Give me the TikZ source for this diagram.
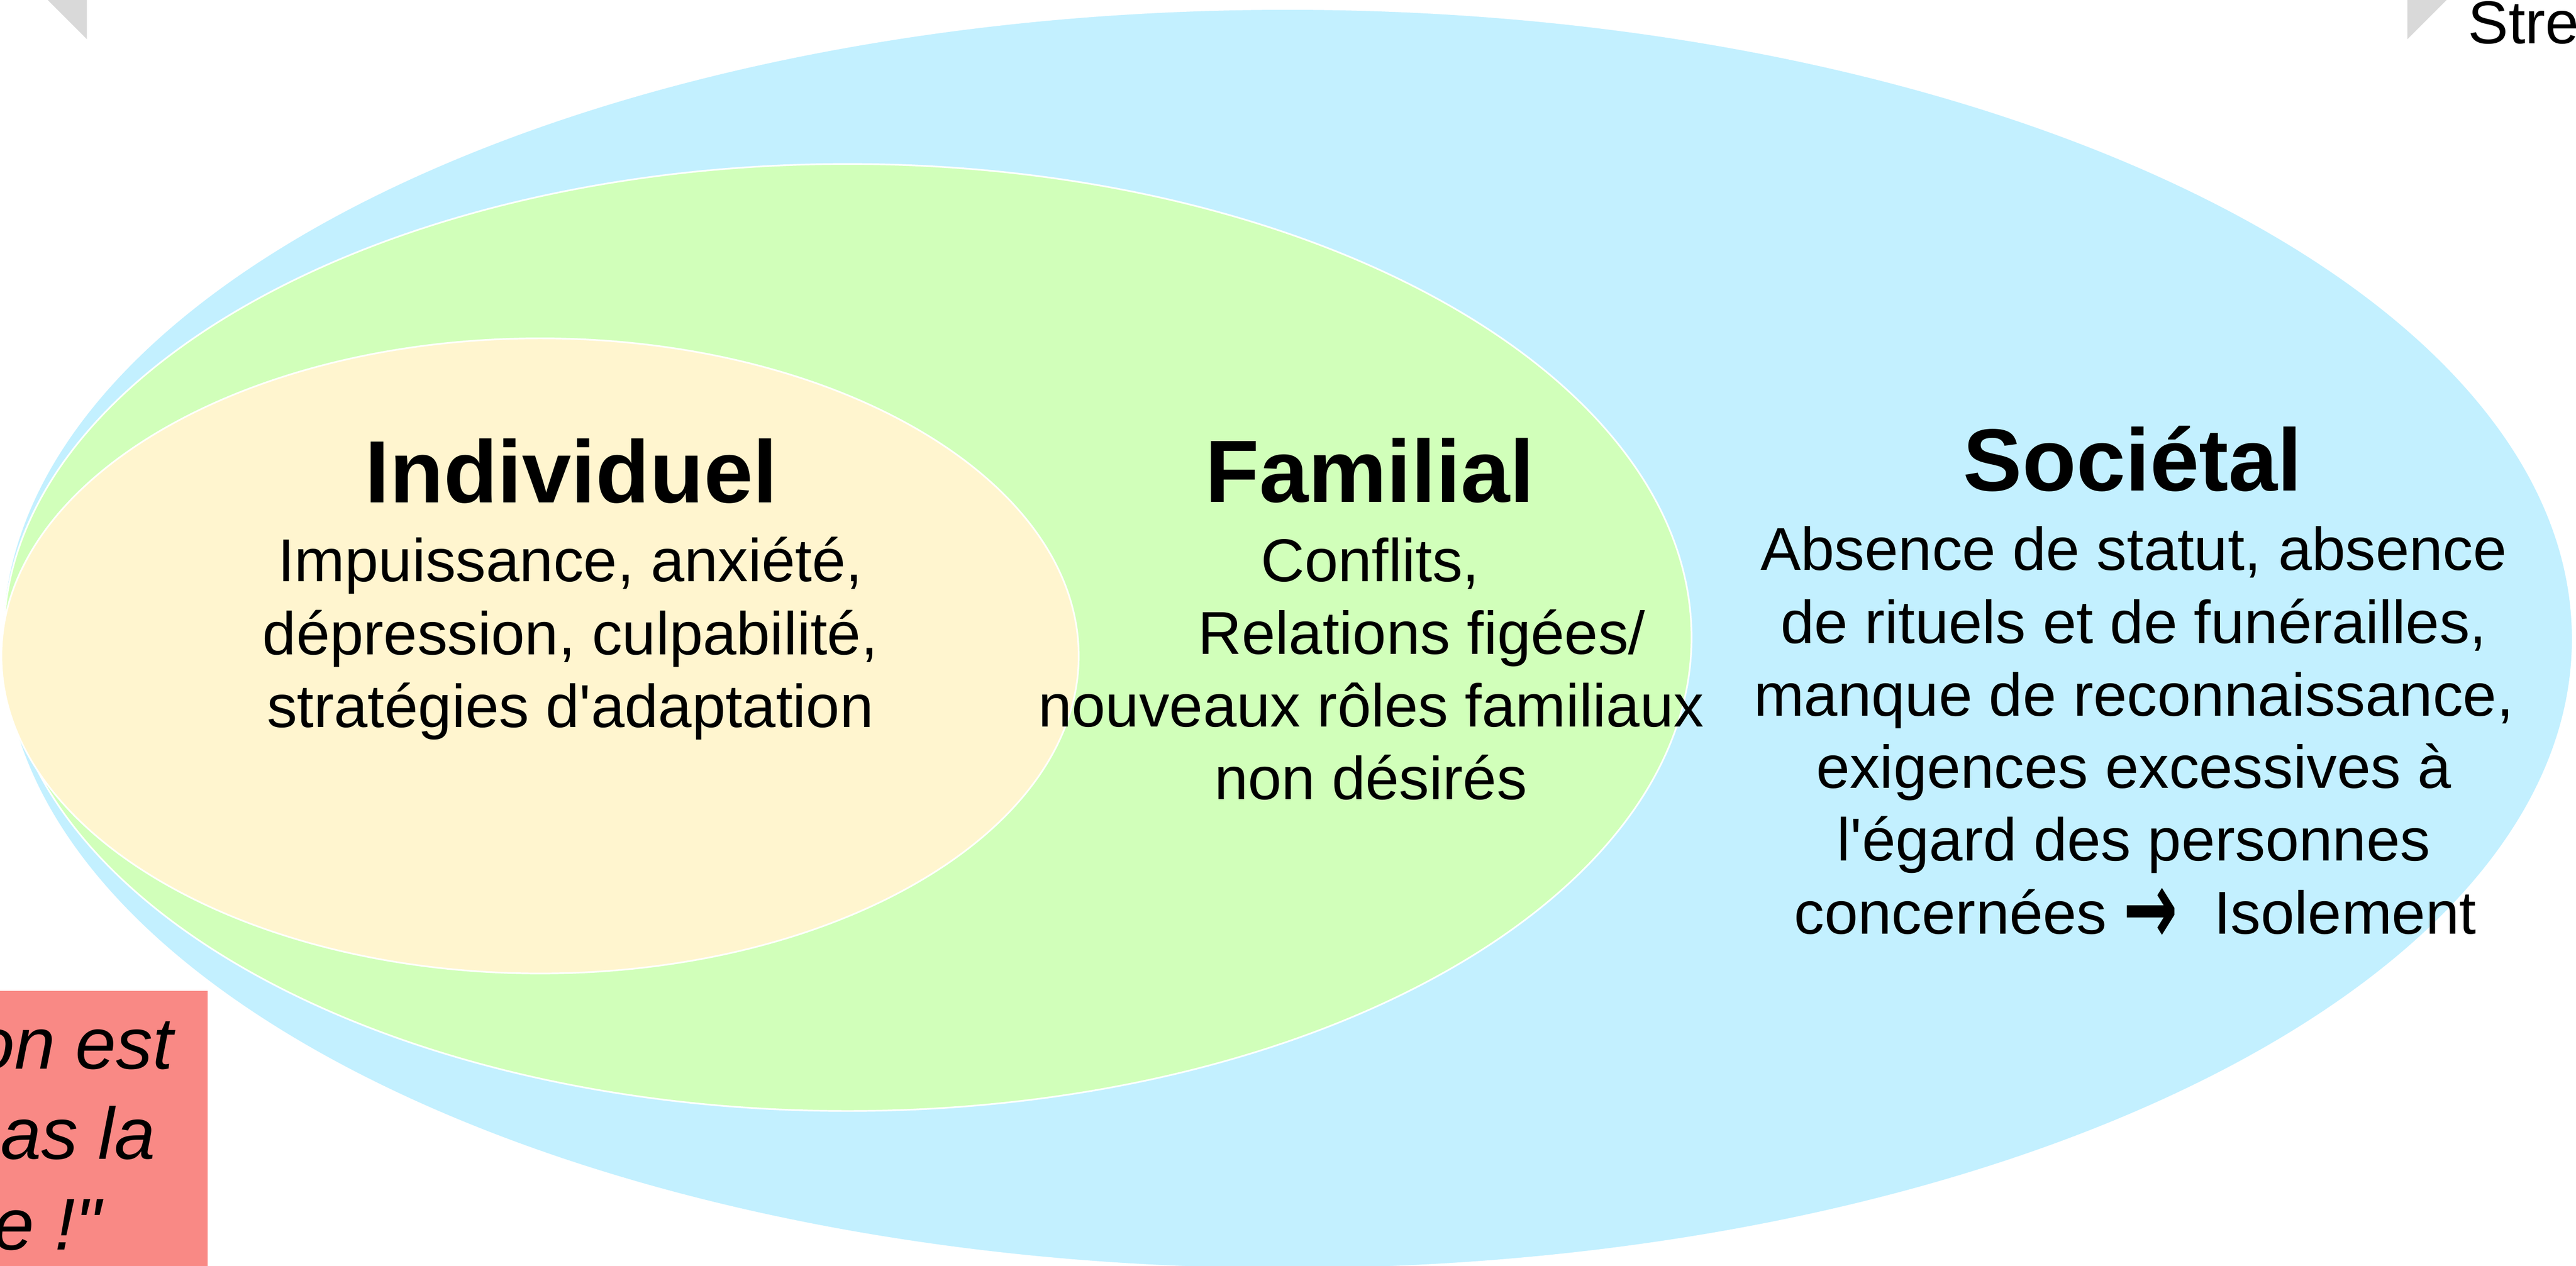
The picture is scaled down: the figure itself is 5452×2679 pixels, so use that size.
\documentclass[tikz,border=0pt]{standalone}
\usepackage{fontspec}
\usepackage{graphicx}
\setmainfont{Liberation Sans}[Ligatures=TeXOff]
\newfontfamily\djv{DejaVu Sans}[Ligatures=TeXOff]
\definecolor{sky}{RGB}{195,240,255}
\definecolor{leaf}{RGB}{209,255,186}
\definecolor{cream}{RGB}{255,245,207}
\definecolor{salmon}{RGB}{249,137,133}
\definecolor{tri}{RGB}{217,217,217}
\begin{document}
\begin{tikzpicture}[x=0.2pt,y=-0.2pt,
  body/.style={font=\fontsize{25.6pt}{30.8pt}\selectfont, inner sep=0pt, anchor=base},
  ttl/.style={font=\fontsize{37.4pt}{45pt}\selectfont\bfseries, inner sep=0pt, anchor=base},
  quote/.style={font=\fontsize{31pt}{38pt}\selectfont\itshape, inner sep=0pt, anchor=base east},
  ring/.style={draw=white, line width=0.7pt}]
\useasboundingbox (0,0) rectangle (5452,2679);
\clip (0,0) rectangle (5452,2679);
% corner marks
\fill[tri] (101,0) -- (184,0) -- (184,83) -- cycle;
\fill[tri] (5095,0) -- (5178,0) -- (5095,83) -- cycle;
\node[body, anchor=base west] (stre) at (5223,92) {Stre};
% ellipses
\filldraw[fill=sky, ring] (2725,1352) ellipse [x radius=544pt, y radius=266.6pt];
\filldraw[fill=leaf, ring] (1794,1349) ellipse [x radius=357.2pt, y radius=200.4pt];
\filldraw[fill=cream, ring] (1143,1388) ellipse [x radius=228pt, y radius=134.4pt];
% quote box
\fill[salmon] (0,2097) rectangle (439,2720);
\node[quote] (q1) at (368,2262) {on est};
\node[quote] (q2) at (330,2453) {as la};
\node[quote] (q3) at (215,2645) {e !"};
% Individuel
\node[ttl] (tind) at (1209,1064) {Individuel};
\node[body] (i1) at (1207,1231) {Impuissance, anxiété,};
\node[body] (i2) at (1207,1385) {dépression, culpabilité,};
\node[body] (i3) at (1207,1539) {stratégies d'adaptation};
% Familial
\node[ttl] (tfam) at (2899,1063) {Familial};
\node[body] (f1) at (2900,1230) {Conflits,};
\node[body, anchor=base west] (f2) at (2535,1384) {Relations figées/};
\node[body] (f3) at (2902,1538) {nouveaux rôles familiaux};
\node[body] (f4) at (2901,1692) {non désirés};
% Societal
\node[ttl] (tsoc) at (4514,1039) {Sociétal};
\node[body] (s1) at (4516,1207) {Absence de statut, absence};
\node[body] (s2) at (4516,1361) {de rituels et de funérailles,};
\node[body] (s3) at (4516,1515) {manque de reconnaissance,};
\node[body] (s4) at (4516,1668) {exigences excessives à};
\node[body] (s5) at (4516,1822) {l'égard des personnes};
\node[body] (s6) at (4519,1976) {concernées\hspace{7pt}\raisebox{-4.4pt}{\scalebox{1}[1.6]{\fontsize{27.5pt}{30pt}\selectfont\djv\bfseries →}}\hspace{15.2pt}Isolement};
\end{tikzpicture}
\end{document}
